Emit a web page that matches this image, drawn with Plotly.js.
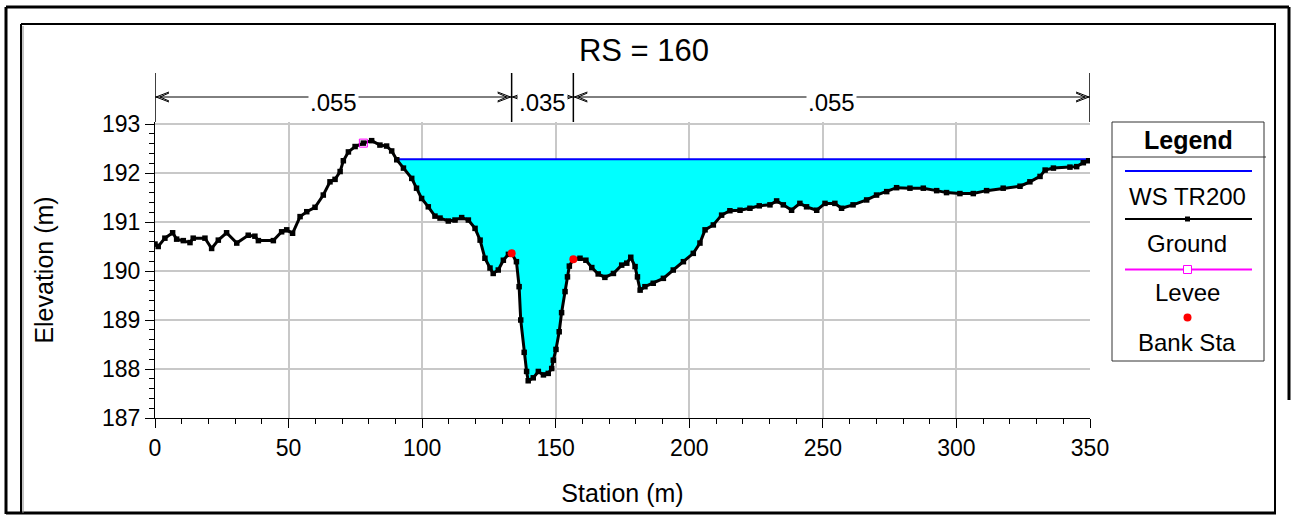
<!DOCTYPE html>
<html><head><meta charset="utf-8">
<script src="https://cdn.plot.ly/plotly-3.0.1.min.js"></script>
<style>html,body{margin:0;padding:0;background:#fff}#chart{width:1294px;height:516px}</style>
</head><body><div id="chart"></div>
<script>
// ---------------- DATA ----------------
const station = [0,1.2,3.7,6.6,8.1,10.6,13.1,14.3,18.7,21.2,23.7,26.8,30.6,34.9,37.4,38.7,44.3,47.4,49.3,51.5,
  54.3,56.8,59.9,63.0,65.5,67.4,69.3,70.5,72.4,74.9,78.0,81.1,84.2,86.7,88.6,90.5,93.0,96.1,97.9,99.8,
  102.3,104.8,106.7,109.8,112.3,114.8,117.3,119.8,121.7,123.5,125.4,126.6,128.5,130.4,132.3,133.5,135.3,136.3,136.9,138.2,
  139.1,139.7,141.6,143.5,145.4,147.2,148.5,149.1,150.1,151.3,152.2,153.5,154.4,155.1,156.6,159.1,161.3,163.5,165.9,168.4,
  171.6,174.7,176.6,178.1,179.7,180.6,181.6,183.4,186.5,190.3,194.0,197.8,201.5,204.0,205.9,209.0,212.1,215.2,219.0,222.7,
  226.2,230.2,232.7,235.2,238.3,241.4,243.9,247.7,250.8,254.5,257.0,261.3,266.4,270.1,273.9,277.6,282.6,287.6,292.6,296.3,
  301.3,306.3,311.3,317.5,323.8,327.5,331.3,333.2,336.3,342.5,345.0,347.5,349.5];
const elevation = [190.55,190.50,190.67,190.78,190.65,190.62,190.58,190.67,190.67,190.46,190.63,190.78,190.57,190.73,190.71,190.62,190.62,190.80,190.84,190.77,
  191.11,191.21,191.30,191.55,191.82,191.87,192.03,192.25,192.43,192.54,192.61,192.66,192.57,192.55,192.45,192.27,192.10,191.89,191.69,191.48,
  191.31,191.12,191.08,191.02,191.04,191.09,191.04,190.87,190.63,190.26,190.06,189.95,190.02,190.22,190.34,190.36,190.19,189.68,189.00,188.34,
  187.95,187.76,187.82,187.95,187.88,187.91,188.01,188.18,188.40,188.76,189.15,189.58,189.88,190.10,190.24,190.26,190.22,190.07,189.94,189.87,
  189.95,190.12,190.16,190.28,190.09,189.88,189.61,189.68,189.75,189.85,190.02,190.19,190.36,190.57,190.84,190.94,191.14,191.23,191.24,191.28,
  191.33,191.35,191.43,191.35,191.24,191.38,191.31,191.24,191.38,191.38,191.28,191.35,191.45,191.55,191.62,191.70,191.69,191.69,191.64,191.60,
  191.58,191.58,191.64,191.69,191.73,191.82,191.93,192.06,192.10,192.12,192.13,192.21,192.25];
const wsName = 'WS TR200';
const wsElev = 192.28;
const bankStations = [133.5, 156.6];
const bankElevs = [190.36, 190.24];
const leveeStations = [78.0];
const leveeElevs = [192.61];
const nValues = ['.055', '.035', '.055'];
const nBreaks = [0, 133.5, 156.6, 350];
const legendLabels = ['WS TR200', 'Ground', 'Levee', 'Bank Sta'];
const chartTitle = 'RS = 160';

// ---------------- WATER SURFACE POLYGON ----------------
let iMin = 0;
for (let i = 1; i < elevation.length; i++) if (elevation[i] < elevation[iMin]) iMin = i;
let iL = iMin, iR = iMin;
while (iL > 0 && elevation[iL - 1] < wsElev) iL--;
while (iR < elevation.length - 1 && elevation[iR + 1] < wsElev) iR++;
function cross(a, b) {
  const t = (wsElev - elevation[a]) / (elevation[b] - elevation[a]);
  return station[a] + t * (station[b] - station[a]);
}
const xLeft = iL > 0 ? cross(iL - 1, iL) : station[0];
const xRight = iR < elevation.length - 1 ? cross(iR, iR + 1) : station[station.length - 1];
const fillX = [xLeft], fillY = [wsElev];
for (let i = iL; i <= iR; i++) { fillX.push(station[i]); fillY.push(elevation[i]); }
fillX.push(xRight, xRight, xLeft); fillY.push(elevation[iR], wsElev, wsElev);

// ---------------- GEOMETRY HELPERS ----------------
const L = 155, R = 1090, T = 122, B = 418;
const X = px => (px - L) / (R - L);
const Y = py => (B - py) / (B - T);
const FONT = 'Liberation Sans, Arial, sans-serif';

const traces = [
  {x: fillX, y: fillY, type: 'scatter', mode: 'lines', fill: 'toself', fillcolor: '#00FFFF',
   line: {width: 0, color: '#00FFFF'}, hoverinfo: 'skip', showlegend: false},
  {x: [xLeft, xRight], y: [wsElev, wsElev], type: 'scatter', mode: 'lines', name: wsName,
   line: {color: '#0000FF', width: 2}, showlegend: false},
  {x: station, y: elevation, type: 'scatter', mode: 'lines+markers', name: 'Ground',
   line: {color: '#000000', width: 3}, marker: {symbol: 'square', size: 5.5, color: '#000000'}, showlegend: false},
  {x: leveeStations, y: leveeElevs, type: 'scatter', mode: 'markers', name: 'Levee',
   marker: {symbol: 'square-open', size: 8, color: '#FF00FF', line: {width: 1}}, showlegend: false},
  {x: bankStations, y: bankElevs, type: 'scatter', mode: 'markers', name: 'Bank Sta',
   marker: {symbol: 'circle', size: 8, color: '#FF0000'}, showlegend: false}
];

const shapes = [];
const annotations = [];
function pline(x0, y0, x1, y1, w, c) {
  shapes.push({type: 'line', xref: 'paper', yref: 'paper', x0: X(x0), y0: Y(y0), x1: X(x1), y1: Y(y1),
    line: {color: c || '#000', width: w}});
}
// frames
pline(6, 7, 1289, 7, 3);
pline(6, 7, 6, 514, 3);
pline(1289, 7, 1289, 400, 3);
pline(6, 513, 1276, 513, 3);
pline(21, 24, 1276, 24, 2);
pline(21, 24, 21, 513, 2);
pline(23, 26, 23, 513, 1, '#888');
pline(1275, 24, 1275, 513, 2);

// n-value dimension lines
const yDim = Y(97);
nBreaks.forEach(s => {
  shapes.push({type: 'line', xref: 'x', yref: 'paper', x0: s, x1: s, y0: Y(73), y1: 1,
    line: {color: '#000', width: 1.5}});
});
for (let i = 0; i < nValues.length; i++) {
  const a = nBreaks[i], b = nBreaks[i + 1];
  shapes.push({type: 'line', xref: 'x', yref: 'paper', x0: a, x1: b, y0: yDim, y1: yDim,
    line: {color: '#000', width: 1}});
  shapes.push({type: 'path', xref: 'x', yref: 'paper', xsizemode: 'pixel', ysizemode: 'pixel',
    xanchor: a, yanchor: yDim, path: 'M 14 5 L 1 0 L 14 -5 M 14 4 L 5 0 L 14 -4', line: {color: '#000', width: 1}});
  shapes.push({type: 'path', xref: 'x', yref: 'paper', xsizemode: 'pixel', ysizemode: 'pixel',
    xanchor: b, yanchor: yDim, path: 'M -14 5 L -1 0 L -14 -5 M -14 4 L -5 0 L -14 -4', line: {color: '#000', width: 1}});
  annotations.push({xref: 'x', yref: 'paper', x: (a + b) / 2, y: Y(102), text: nValues[i], showarrow: false,
    font: {family: FONT, size: 24, color: '#000'}, bgcolor: '#FFFFFF', borderpad: 1, xanchor: 'center', yanchor: 'middle'});
}

// legend box
shapes.push({type: 'rect', xref: 'paper', yref: 'paper', x0: X(1112), x1: X(1264), y0: Y(122), y1: Y(361),
  line: {color: '#333', width: 1}});
pline(1112, 157, 1266, 157, 1, '#333');
pline(1125, 171, 1252, 171, 2, '#0000FF');
pline(1125, 219, 1252, 219, 2, '#000000');
shapes.push({type: 'rect', xref: 'paper', yref: 'paper', x0: X(1185), x1: X(1190), y0: Y(216.5), y1: Y(221.5),
  line: {width: 0}, fillcolor: '#000'});
pline(1125, 269.5, 1252, 269.5, 2, '#FF00FF');
shapes.push({type: 'rect', xref: 'paper', yref: 'paper', x0: X(1183.5), x1: X(1191.5), y0: Y(265.5), y1: Y(273.5),
  line: {width: 1, color: '#FF00FF'}, fillcolor: '#FFFFFF'});
shapes.push({type: 'circle', xref: 'paper', yref: 'paper', x0: X(1183.5), x1: X(1191.5), y0: Y(313.5), y1: Y(321.5),
  line: {width: 0}, fillcolor: '#FF0000'});
function ptext(px, py, txt, size, bold) {
  annotations.push({xref: 'paper', yref: 'paper', x: X(px), y: Y(py), text: bold ? '<b>' + txt + '</b>' : txt,
    showarrow: false, xanchor: 'center', yanchor: 'middle', font: {family: FONT, size: size, color: '#000'}});
}
ptext(1188, 140, 'Legend', 25, true);
const legendTextY = [196, 243, 292, 342];
legendLabels.forEach((t, i) => ptext(1187, legendTextY[i], t, 24, false));

const layout = {
  width: 1294, height: 516,
  margin: {l: L, r: 1294 - R, t: T, b: 516 - B, pad: 0},
  paper_bgcolor: '#FFFFFF', plot_bgcolor: '#FFFFFF',
  font: {family: FONT, color: '#000'},
  showlegend: false,
  title: {text: chartTitle, font: {family: FONT, size: 31, color: '#000'}, xref: 'container', yref: 'container',
    x: 644 / 1294, xanchor: 'center', y: 1 - 50 / 516, yanchor: 'middle'},
  xaxis: {range: [0, 350], dtick: 50, tick0: 0, showgrid: true, gridcolor: '#C8C8C8', gridwidth: 2,
    zeroline: false, showline: true, linecolor: '#000', linewidth: 1, ticks: 'outside', ticklen: 9, tickcolor: '#000',
    tickfont: {family: FONT, size: 23, color: '#000'},
    minor: {dtick: 10, ticks: 'outside', ticklen: 5, tickcolor: '#000', showgrid: false},
    title: {text: 'Station (m)', font: {family: FONT, size: 25, color: '#000'}, standoff: 24}},
  yaxis: {range: [187, 187 + (B - T) / 49], dtick: 1, tick0: 187, showgrid: true, gridcolor: '#C8C8C8', gridwidth: 2,
    zeroline: false, showline: true, linecolor: '#000', linewidth: 1, ticks: 'outside', ticklen: 9, tickcolor: '#000',
    tickfont: {family: FONT, size: 23, color: '#000'},
    minor: {dtick: 0.2, ticks: 'outside', ticklen: 5, tickcolor: '#000', showgrid: false},
    title: {text: 'Elevation (m)', font: {family: FONT, size: 25, color: '#000'}, standoff: 41}},
  shapes: shapes,
  annotations: annotations
};

Plotly.newPlot('chart', traces, layout, {displayModeBar: false, staticPlot: true});
</script>
</body></html>
